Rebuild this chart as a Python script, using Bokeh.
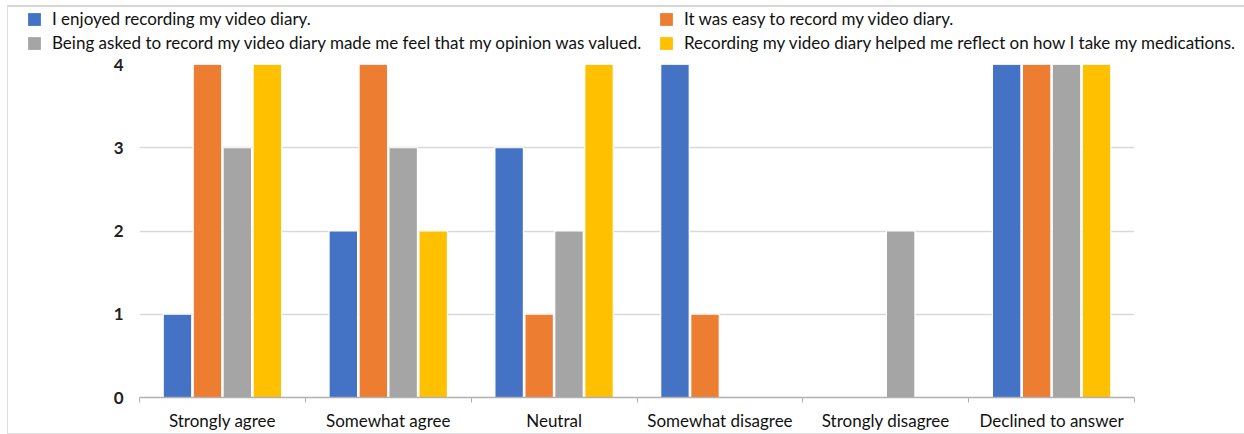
from bokeh.plotting import figure
from bokeh.layouts import column
from bokeh.models import (ColumnDataSource, FixedTicker, Legend, LegendItem, Range1d)
from bokeh.transform import dodge
from bokeh.embed import file_html
from bokeh.resources import INLINE

categories = ["Strongly agree", "Somewhat agree", "Neutral",
              "Somewhat disagree", "Strongly disagree", "Declined to answer"]
enjoyed = [1, 2, 3, 4, 0, 4]
easy = [4, 4, 1, 1, 0, 4]
valued = [3, 3, 2, 0, 2, 4]
reflect = [4, 2, 4, 0, 0, 4]

series_names = [
    "I enjoyed recording my video diary.",
    "It was easy to record my video diary.",
    "Being asked to record my video diary made me feel that my opinion was valued.",
    "Recording my video diary helped me reflect on how I take my medications.",
]
series_keys = ["enjoyed", "easy", "valued", "reflect"]
colors = ["#4472C4", "#ED7D31", "#A5A5A5", "#FFC000"]
offsets = [-0.271, -0.09, 0.09, 0.271]

FONT = "Lato"

centers = [i + 0.5 for i in range(len(categories))]
source = ColumnDataSource(dict(x=centers, enjoyed=enjoyed, easy=easy,
                               valued=valued, reflect=reflect))

# main bar chart
p = figure(width=1236, height=380, output_backend="svg", toolbar_location=None,
           x_range=Range1d(0, len(categories)), y_range=Range1d(0, 4),
           min_border_left=131, min_border_right=110,
           min_border_top=11, min_border_bottom=33)
p.outline_line_color = None
p.background_fill_color = "white"
p.border_fill_color = "white"

for key, col, off in zip(series_keys, colors, offsets):
    p.vbar(x=dodge("x", off, range=p.x_range), top=key, width=0.172,
           source=source, fill_color=col, line_color="white", line_width=1.2)

p.xgrid.grid_line_color = None
p.ygrid.grid_line_color = "#d9d9d9"
p.ygrid.grid_line_width = 1.3
p.yaxis.ticker = FixedTicker(ticks=[0, 1, 2, 3, 4])
p.yaxis.axis_line_color = None
p.yaxis.major_tick_line_color = None
p.yaxis.minor_tick_line_color = None
p.yaxis.major_label_text_font = FONT
p.yaxis.major_label_text_font_size = "17px"
p.yaxis.major_label_text_font_style = "bold"
p.yaxis.major_label_text_color = "#222222"
p.yaxis.major_label_standoff = 10

p.xaxis.ticker = FixedTicker(ticks=centers, minor_ticks=list(range(len(categories) + 1)))
p.xaxis.major_label_overrides = {c: name for c, name in zip(centers, categories)}
p.xaxis.axis_line_color = "#b0b0b0"
p.xaxis.axis_line_width = 1.3
p.xaxis.major_tick_line_color = None
p.xaxis.minor_tick_line_color = "#b0b0b0"
p.xaxis.minor_tick_out = 5
p.xaxis.minor_tick_in = 0
p.xaxis.major_label_text_font = FONT
p.xaxis.major_label_text_font_size = "17px"
p.xaxis.major_label_text_color = "#111111"
p.xaxis.major_label_standoff = 6

# legend strip: two columns of two entries; the swatch renderers sit below
# the strip's visible y range so only their legend glyphs show
lf = figure(width=1236, height=46, output_backend="svg", toolbar_location=None,
            x_range=Range1d(0, len(categories)), y_range=Range1d(10, 11),
            min_border_left=0, min_border_right=0, min_border_top=0, min_border_bottom=0)
lf.frame_align = False
lf.axis.visible = False
lf.grid.visible = False
lf.outline_line_color = None
swatches = [lf.vbar(x="x", top=key, width=0.1, source=source,
                    fill_color=c, line_color=None)
            for key, c in zip(series_keys, colors)]

def make_legend(idx, loc):
    return Legend(items=[LegendItem(label=series_names[i], renderers=[swatches[i]]) for i in idx],
                  location=loc, orientation="vertical",
                  glyph_width=16, glyph_height=16, label_standoff=10,
                  label_height=20, spacing=3, padding=0, margin=0,
                  label_text_font=FONT, label_text_font_size="17px",
                  label_text_color="#111111",
                  border_line_color=None, background_fill_alpha=0)

lf.add_layout(make_legend([0, 2], (18, 0)), "center")
lf.add_layout(make_legend([1, 3], (650, 0)), "center")

page = column(lf, p, spacing=0, margin=(5, 0, 0, 7),
              styles={"border-top": "2px solid #d6d6d6", "border-left": "1px solid #dedede",
                      "border-bottom": "1px solid #dedede", "background": "white"})

open("out.html", "w").write(file_html(page, INLINE))
